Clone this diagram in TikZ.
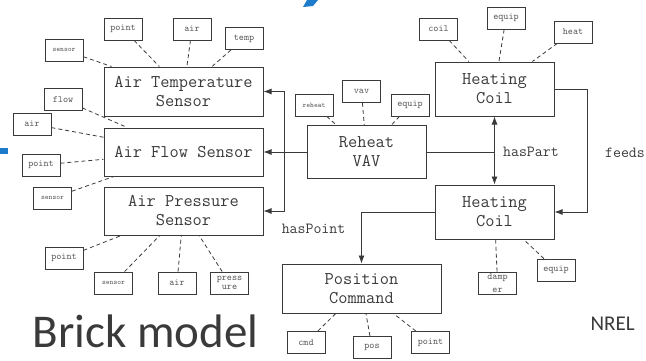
\documentclass[tikz,border=0pt]{standalone}
\usepackage{fontspec}
\newfontfamily\slidefont{Carlito}
\usetikzlibrary{arrows.meta,positioning,calc}
\definecolor{ink}{HTML}{3A3A3A}
\definecolor{tagink}{HTML}{555555}
\definecolor{slide}{HTML}{1C7CCB}
\tikzset{
  box/.style={draw=ink, line width=1pt, align=center, inner sep=0pt,
    minimum width=159pt, minimum height=49pt, text=ink,
    font=\ttfamily\fontsize{17.9}{19}\selectfont},
  part/.style={box, minimum width=119pt, minimum height=53pt},
  tag/.style={draw=ink, line width=0.8pt, align=center, inner sep=0pt,
    minimum width=38pt, minimum height=22pt, text=tagink,
    font=\ttfamily\fontsize{9.7}{9.7}\selectfont},
  tiny/.style={tag, font=\ttfamily\fontsize{7.2}{8}\selectfont},
  link/.style={dashed, dash pattern=on 4pt off 3pt, line width=0.8pt, draw=ink},
  flow/.style={-{Latex[length=8pt,width=6pt]}, line width=0.9pt, draw=ink},
  rel/.style={font=\ttfamily\fontsize{15.4}{16}\selectfont, text=ink, inner sep=0pt},
}

\begin{document}
\begin{tikzpicture}[x=1pt, y=-1pt]
    \useasboundingbox (0,0) rectangle (646,360);
    % sensors
    \node[box] (ats) at (183.5,91.5) {Air Temperature\\Sensor};
    \node[box, minimum height=48pt] (afs) at (183.5,152) {Air Flow Sensor};
    \node[box, minimum height=48pt] (aps) at (183.5,211) {Air Pressure\\Sensor};
    % equipment
    \node[part] (vav) at (366.5,152) {Reheat\\VAV};
    \node[part, minimum height=54pt] (hc1) at (494.5,89) {Heating\\Coil};
    \node[part, minimum height=54pt] (hc2) at (494.5,212) {Heating\\Coil};
    \node[box] (pc) at (361.5,288.5) {Position\\Command};
    % tags
    \node[tiny] (atsa) at (64,50) {sensor};
    \node[tag] (atsb) at (123,29) {point};
    \node[tag] (atsc) at (192,29) {air};
    \node[tag] (atsd) at (244,38.5) {temp};
    \node[tag] (afsa) at (63,99.5) {flow};
    \node[tag] (afsb) at (32,124) {air};
    \node[tag] (afsc) at (41,165) {point};
    \node[tiny] (afsd) at (52.5,198) {sensor};
    \node[tag] (apsa) at (64,258) {point};
    \node[tiny] (apsb) at (113.5,283) {sensor};
    \node[tag] (apsc) at (177,283) {air};
    \node[tag] (apsd) at (229.5,283) {press\\ure};
    \node[tiny] (vava) at (314,105) {reheat};
    \node[tag] (vavb) at (361.5,91.5) {vav};
    \node[tag] (vavc) at (410,105) {equip};
    \node[tag] (hc1a) at (438.5,29) {coil};
    \node[tag] (hc1b) at (506,18) {equip};
    \node[tag] (hc1c) at (573,32) {heat};
    \node[tag, font=\ttfamily\fontsize{9.7}{13}\selectfont] (hc2a) at (497.5,283) {damp\\er};
    \node[tag] (hc2b) at (556,270) {equip};
    \node[tag] (pca) at (306,342.5) {cmd};
    \node[tag] (pcb) at (372,347.5) {pos};
    \node[tag] (pcc) at (430.5,342.5) {point};
    \foreach \t in {atsa,atsb,atsc,atsd} \draw[link] (\t) -- (ats);
    \foreach \t in {afsa,afsb,afsc,afsd} \draw[link] (\t) -- (afs);
    \foreach \t in {apsa,apsb,apsc,apsd} \draw[link] (\t) -- (aps);
    \foreach \t in {vava,vavb,vavc} \draw[link] (\t) -- (vav);
    \foreach \t in {hc1a,hc1b,hc1c} \draw[link] (\t) -- (hc1);
    \foreach \t in {hc2a,hc2b} \draw[link] (\t) -- (hc2);
    \foreach \t in {pca,pcb,pcc} \draw[link] (\t) -- (pc);
    % relations
    \coordinate (split) at (284,152);
    \coordinate (joint) at (494.5,152);
    \draw[flow] (vav) -- (afs);
    \draw[flow] (split) |- (ats.east);
    \draw[flow] (split) |- (aps.east);
    \draw[line width=0.9pt, draw=ink] (vav.east) -- (joint);
    \draw[flow, {Latex[length=8pt,width=6pt]}-{Latex[length=8pt,width=6pt]}] (hc1.south) -- (hc2.north);
    \draw[flow] (hc1.east) -- ++(33,0) |- (hc2.east);
    \draw[flow] (hc2.west) -| (pc.north);
    \node[rel, anchor=west] (haspart) at (503,152) {hasPart};
    \node[rel, anchor=west] (feeds) at (605,153) {feeds};
    \node[rel] (haspoint) at (313.5,229) {hasPoint};
    % slide
    \node[font=\slidefont\fontsize{47}{50}\selectfont, text=ink, anchor=base west] (title) at (29,347) {Brick model};
    \node[font=\slidefont\fontsize{21}{24}\selectfont, text=ink, anchor=base west] (nrel) at (587,330) {NREL};
    \fill[slide] (303,7) -- (313,6) -- (318,0) -- (307,0) -- cycle;
    \fill[slide] (0,148) rectangle (8,154);
\end{tikzpicture}
\end{document}
